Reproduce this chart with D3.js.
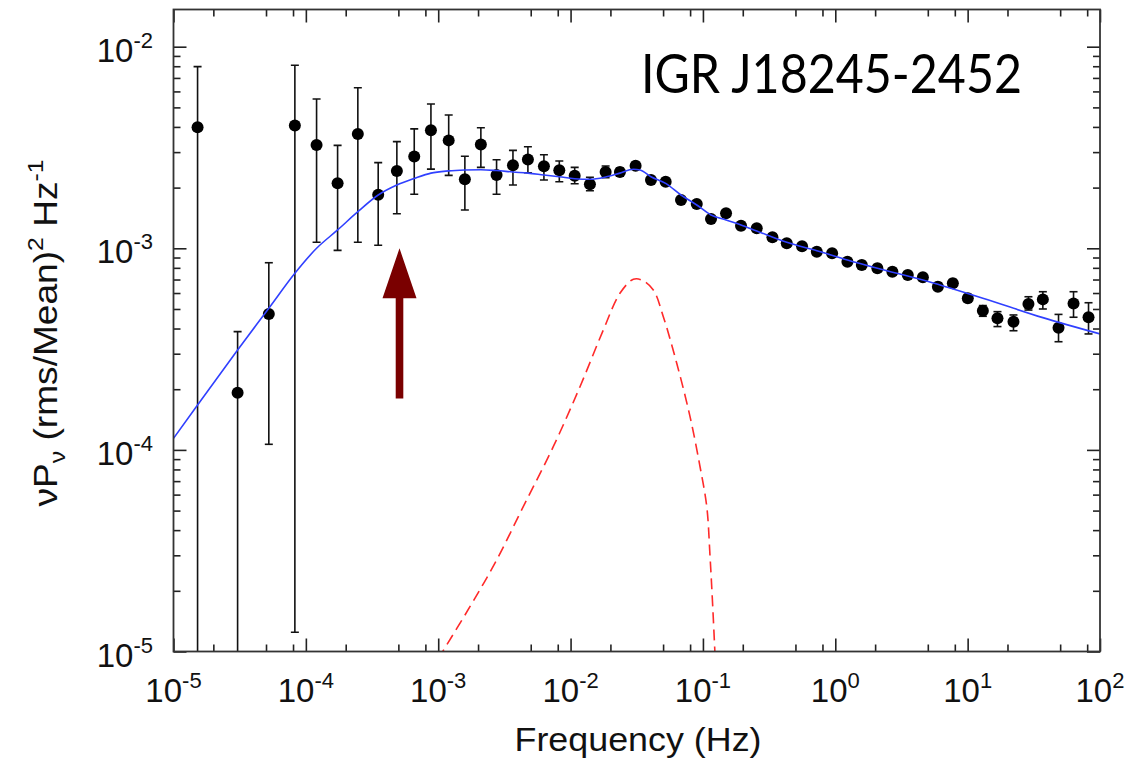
<!DOCTYPE html>
<html><head><meta charset="utf-8">
<script src="https://cdn.jsdelivr.net/npm/d3@7"></script>
<style>body{margin:0;background:#fff}svg{display:block}</style>
</head><body>
<svg id="chart" width="1143" height="762"></svg>
<script>
// ---- data ----
const freq = [1.52e-5, 3.05e-5, 5.25e-5, 8.26e-5, 1.205e-4, 1.737e-4, 2.47e-4, 3.52e-4, 4.87e-4, 6.59e-4,
  8.81e-4, 1.20e-3, 1.59e-3, 2.10e-3, 2.76e-3, 3.67e-3, 4.76e-3, 6.29e-3, 8.22e-3, 1.074e-2,
  1.40e-2, 1.84e-2, 2.36e-2, 3.10e-2, 4.05e-2, 5.23e-2, 6.83e-2, 8.98e-2, 0.1151, 0.1495,
  0.194, 0.255, 0.335, 0.430, 0.561, 0.725, 0.946, 1.235, 1.586, 2.08,
  2.70, 3.53, 4.59, 5.96, 7.73, 10.03, 13.03, 16.8, 22.2, 28.8,
  37.0, 48.6, 63.1, 81.9];
const power = [3.98e-3, 1.92e-4, 4.72e-4, 4.06e-3, 3.25e-3, 2.10e-3, 3.69e-3, 1.845e-3, 2.42e-3, 2.85e-3,
  3.85e-3, 3.43e-3, 2.20e-3, 3.27e-3, 2.31e-3, 2.58e-3, 2.76e-3, 2.55e-3, 2.44e-3, 2.29e-3,
  2.08e-3, 2.39e-3, 2.39e-3, 2.57e-3, 2.18e-3, 2.14e-3, 1.737e-3, 1.66e-3, 1.397e-3, 1.492e-3,
  1.294e-3, 1.257e-3, 1.134e-3, 1.059e-3, 1.023e-3, 9.62e-4, 9.45e-4, 8.58e-4, 8.26e-4, 7.96e-4,
  7.66e-4, 7.37e-4, 7.18e-4, 6.45e-4, 6.70e-4, 5.65e-4, 4.90e-4, 4.50e-4, 4.32e-4, 5.29e-4,
  5.58e-4, 4.04e-4, 5.33e-4, 4.55e-4];
const errHi = [7.96e-3, 3.86e-4, 8.48e-4, 8.09e-3, 5.50e-3, 3.24e-3, 6.26e-3, 2.66e-3, 3.38e-3, 3.91e-3,
  5.20e-3, 4.58e-3, 2.86e-3, 3.96e-3, 2.75e-3, 3.06e-3, 3.19e-3, 2.91e-3, 2.71e-3, 2.52e-3,
  2.25e-3, 2.56e-3, 2.50e-3, 2.66e-3, 2.25e-3, 2.22e-3, 1.80e-3, 1.72e-3, 1.45e-3, 1.55e-3,
  1.34e-3, 1.30e-3, 1.18e-3, 1.10e-3, 1.06e-3, 1.00e-3, 9.8e-4, 8.9e-4, 8.6e-4, 8.3e-4,
  7.95e-4, 7.65e-4, 7.45e-4, 6.75e-4, 7.0e-4, 5.9e-4, 5.2e-4, 4.85e-4, 4.67e-4, 5.75e-4,
  6.09e-4, 4.70e-4, 6.09e-4, 5.37e-4];
const errLo = [1e-6, 1e-6, 1.066e-4, 1.245e-5, 1.071e-3, 9.77e-4, 1.071e-3, 1.035e-3, 1.485e-3, 1.853e-3,
  2.47e-3, 2.30e-3, 1.549e-3, 2.52e-3, 1.853e-3, 2.06e-3, 2.37e-3, 2.18e-3, 2.14e-3, 2.09e-3,
  1.93e-3, 2.24e-3, 2.28e-3, 2.48e-3, 2.11e-3, 2.06e-3, 1.67e-3, 1.60e-3, 1.34e-3, 1.43e-3,
  1.24e-3, 1.21e-3, 1.09e-3, 1.02e-3, 9.8e-4, 9.25e-4, 9.1e-4, 8.25e-4, 7.95e-4, 7.65e-4,
  7.35e-4, 7.1e-4, 6.9e-4, 6.2e-4, 6.45e-4, 5.4e-4, 4.6e-4, 4.09e-4, 3.90e-4, 4.94e-4,
  5.00e-4, 3.44e-4, 4.55e-4, 3.76e-4];

// total model (blue solid line)
const modelFreq = [1e-5, 1.52e-5, 3.05e-5, 5.25e-5, 8.26e-5, 1.205e-4, 1.737e-4, 2.47e-4, 3.52e-4, 4.87e-4,
  6.59e-4, 8.81e-4, 1.20e-3, 1.59e-3, 2.10e-3, 2.76e-3, 3.67e-3, 4.76e-3, 6.29e-3, 8.22e-3,
  1.074e-2, 1.40e-2, 1.84e-2, 2.36e-2, 2.98e-2, 3.35e-2, 4.05e-2, 5.23e-2, 6.83e-2, 8.98e-2,
  0.1151, 0.1495, 0.194, 0.255, 0.430, 0.725, 1.235, 2.08, 4.59, 13.03, 37.0, 100];
const modelPower = [1.141e-4, 1.67e-4, 3.13e-4, 5.04e-4, 7.52e-4, 1.0e-3, 1.233e-3, 1.519e-3, 1.838e-3, 2.06e-3,
  2.22e-3, 2.36e-3, 2.42e-3, 2.445e-3, 2.454e-3, 2.43e-3, 2.39e-3, 2.36e-3, 2.31e-3, 2.265e-3,
  2.214e-3, 2.20e-3, 2.258e-3, 2.36e-3, 2.465e-3, 2.445e-3, 2.265e-3, 2.10e-3, 1.838e-3, 1.64e-3,
  1.463e-3, 1.381e-3, 1.305e-3, 1.219e-3, 1.071e-3, 9.73e-4, 8.75e-4, 7.96e-4, 6.96e-4, 5.65e-4, 4.53e-4, 3.76e-4];

// QPO component (red dashed line)
const qpoFreq = [1.0e-3, 1.736e-3, 2.763e-3, 4.39e-3, 7.40e-3, 1.178e-2, 1.767e-2, 2.36e-2, 2.98e-2, 3.45e-2,
  4.22e-2, 5.02e-2, 6.34e-2, 7.99e-2, 9.51e-2, 0.1069, 0.1132, 0.1186, 0.1240];
const qpoPower = [9.2e-6, 1.668e-5, 2.844e-5, 5.23e-5, 1.037e-4, 2.058e-4, 3.93e-4, 5.98e-4, 7.02e-4, 6.96e-4,
  6.21e-4, 4.58e-4, 2.69e-4, 1.462e-4, 8.25e-5, 5.23e-5, 2.95e-5, 1.668e-5, 9.0e-6];

// annotation arrow
const arrowFreq = 5.1e-4, arrowFrom = 1.8e-4, arrowTo = 1.0e-3;

// ticks
const xMajor = [1e-5, 1e-4, 1e-3, 1e-2, 1e-1, 1e0, 1e1, 1e2];
const xTickExp = ["-5", "-4", "-3", "-2", "-1", "0", "1", "2"];
const xMinorMult = [2, 5, 8];
const yMajor = [1e-5, 1e-4, 1e-3, 1e-2];
const yTickExp = ["-5", "-4", "-3", "-2"];
const yMinorMult = [2, 3, 4, 5, 6, 7, 8, 9];

const titleText = "IGR J18245-2452";

// ---- drawing ----
const svg = d3.select("#chart");
const L = 173.5, R = 1100, T = 9.5, B = 651.5;
const x = d3.scaleLog().domain([1e-5, 1e2]).range([L, R]);
const y = d3.scaleLog().domain([1e-5, Math.pow(10, -1.8155)]).range([B, T]);

const xMinor = [];
for (let e = -5; e < 2; e++) xMinorMult.forEach(m => xMinor.push(m * Math.pow(10, e)));
const yMinor = [];
for (let e = -5; e < -1; e++) yMinorMult.forEach(m => { const v = m * Math.pow(10, e); if (v < y.domain()[1]) yMinor.push(v); });

svg.append("defs").append("clipPath").attr("id", "clip")
  .append("rect").attr("x", L).attr("y", T).attr("width", R - L).attr("height", B - T);

function styleAxis(g) {
  g.select(".domain").remove();
  g.selectAll(".tick line").attr("stroke", "#222").attr("stroke-width", 1.6);
  g.selectAll(".tick text").remove();
}
const axes = [
  [d3.axisBottom(x), xMajor, xMinor, `translate(0,${B})`],
  [d3.axisTop(x), xMajor, xMinor, `translate(0,${T})`],
  [d3.axisLeft(y), yMajor, yMinor, `translate(${L},0)`],
  [d3.axisRight(y), yMajor, yMinor, `translate(${R},0)`]
];
axes.forEach(([ax, maj, min, tr]) => {
  svg.append("g").attr("transform", tr)
    .call(ax.tickValues(maj).tickSizeInner(-13).tickSizeOuter(0).tickFormat(""))
    .call(styleAxis);
  const ax2 = ax.copy ? ax.copy() : ax;
  svg.append("g").attr("transform", tr)
    .call(ax.tickValues(min).tickSizeInner(-7).tickSizeOuter(0).tickFormat(""))
    .call(styleAxis);
});

// tick labels
const fontMain = "'Liberation Sans', Arial, Helvetica, sans-serif";
xMajor.forEach((v, i) => {
  const t = svg.append("text").attr("x", x(v)).attr("y", 702)
    .attr("text-anchor", "middle").attr("font-family", fontMain).attr("font-size", 33).attr("fill", "#111");
  t.append("tspan").text("10");
  t.append("tspan").attr("dy", -14).attr("font-size", 22).text(xTickExp[i]);
});
yMajor.forEach((v, i) => {
  const t = svg.append("text").attr("x", 153).attr("y", y(v) + 15)
    .attr("text-anchor", "end").attr("font-family", fontMain).attr("font-size", 33).attr("fill", "#111");
  t.append("tspan").text("10");
  t.append("tspan").attr("dy", -14).attr("font-size", 22).text(yTickExp[i]);
});

// axis titles
svg.append("text").attr("x", 638).attr("y", 751).attr("text-anchor", "middle")
  .attr("font-family", fontMain).attr("font-size", 33).attr("fill", "#111")
  .attr("textLength", 247).attr("lengthAdjust", "spacingAndGlyphs")
  .text("Frequency (Hz)");

const yt = svg.append("text").attr("transform", "translate(57,333) rotate(-90)")
  .attr("text-anchor", "middle").attr("font-family", fontMain).attr("font-size", 33).attr("fill", "#111")
  .attr("textLength", 347).attr("lengthAdjust", "spacingAndGlyphs");
yt.append("tspan").text("\u03bdP");
yt.append("tspan").attr("dy", 8).attr("font-size", 22).text("\u03bd");
yt.append("tspan").attr("dy", -8).text(" (rms/Mean)");
yt.append("tspan").attr("dy", -14).attr("font-size", 22).text("2");
yt.append("tspan").attr("dy", 14).text(" Hz");
yt.append("tspan").attr("dy", -14).attr("font-size", 22).text("-1");

// title
svg.append("text").attr("x", 641).attr("y", 93)
  .attr("font-family", "Lato, 'Open Sans', sans-serif").attr("font-size", 55).attr("fill", "#000")
  .attr("textLength", 381).attr("lengthAdjust", "spacingAndGlyphs")
  .text(titleText);

const plot = svg.append("g").attr("clip-path", "url(#clip)");

// QPO dashed curve
const qpoData = qpoFreq.map((f, i) => [f, qpoPower[i]]);
plot.append("path").datum(qpoData)
  .attr("d", d3.line().x(d => x(d[0])).y(d => y(d[1])).curve(d3.curveCatmullRom.alpha(0.5)))
  .attr("fill", "none").attr("stroke", "#ff2a2a").attr("stroke-width", 1.6)
  .attr("stroke-dasharray", "11,6");

// error bars
const pts = freq.map((f, i) => ({ f, p: power[i], lo: errLo[i], hi: errHi[i] }));
const eb = plot.append("g").attr("stroke", "#111").attr("stroke-width", 1.6);
pts.forEach(d => {
  const cx = x(d.f);
  eb.append("line").attr("x1", cx).attr("x2", cx).attr("y1", y(d.lo)).attr("y2", y(d.hi));
  eb.append("line").attr("x1", cx - 4).attr("x2", cx + 4).attr("y1", y(d.hi)).attr("y2", y(d.hi));
  eb.append("line").attr("x1", cx - 4).attr("x2", cx + 4).attr("y1", y(d.lo)).attr("y2", y(d.lo));
});
plot.append("g").selectAll("circle").data(pts).join("circle")
  .attr("cx", d => x(d.f)).attr("cy", d => y(d.p)).attr("r", 6).attr("fill", "#000");

// model curve
const modelData = modelFreq.map((f, i) => [f, modelPower[i]]);
plot.append("path").datum(modelData)
  .attr("d", d3.line().x(d => x(d[0])).y(d => y(d[1])).curve(d3.curveMonotoneX))
  .attr("fill", "none").attr("stroke", "#3040ff").attr("stroke-width", 1.6);

// arrow
const ax0 = x(arrowFreq), yb = y(arrowFrom), yt2 = y(arrowTo);
const headLen = 50, headHalf = 17, shaftHalf = 3.8;
svg.append("path")
  .attr("d", `M${ax0 - shaftHalf},${yb} L${ax0 - shaftHalf},${yt2 + headLen} L${ax0 - headHalf},${yt2 + headLen} L${ax0},${yt2} L${ax0 + headHalf},${yt2 + headLen} L${ax0 + shaftHalf},${yt2 + headLen} L${ax0 + shaftHalf},${yb} Z`)
  .attr("fill", "#7a0000");

// frame
svg.append("rect").attr("x", L).attr("y", T).attr("width", R - L).attr("height", B - T)
  .attr("fill", "none").attr("stroke", "#333").attr("stroke-width", 1.8);
</script>
</body></html>
